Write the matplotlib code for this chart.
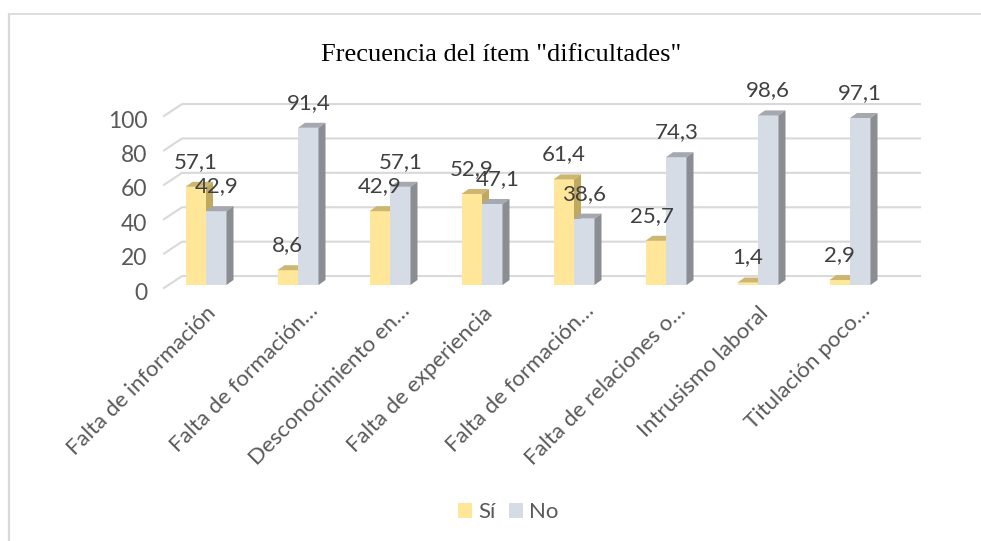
import numpy as np
import matplotlib
matplotlib.use("Agg")
import matplotlib.pyplot as plt
from matplotlib.lines import Line2D
from matplotlib.patches import Patch, Polygon
from matplotlib.transforms import ScaledTranslation

categories = [
    "Falta de información",
    "Falta de formación…",
    "Desconocimiento en…",
    "Falta de experiencia",
    "Falta de formación…",
    "Falta de relaciones o…",
    "Intrusismo laboral",
    "Titulación poco…",
]
si = [57.1, 8.6, 42.9, 52.9, 61.4, 25.7, 1.4, 2.9]
no = [42.9, 91.4, 57.1, 47.1, 38.6, 74.3, 98.6, 97.1]
y_ticks = [0, 20, 40, 60, 80, 100]

W, H = 981, 541
PX_X = 92.0   # px per category
PX_Y = 1.72   # px per value unit
BAR_W = 20.5 / PX_X
DX = 7 / PX_X
DY = 5 / PX_Y
TICK_SHIFT = 3 / PX_Y

plt.rcParams["font.family"] = ["Lato", "DejaVu Sans"]

fig = plt.figure(figsize=(W / 100, H / 100), dpi=100)
left, right, top, bottom = 164, 920, 100, 296
ax = fig.add_axes([left / W, 1 - bottom / H, (right - left) / W, (bottom - top) / H])
ax.patch.set_visible(False)
for s in ax.spines.values():
    s.set_visible(False)

# page border, only top and left are there
fig.add_artist(Line2D([9 / W, 9 / W], [0, 1 - 13.5 / H], color="#D9D9D9", lw=1.6))
fig.add_artist(Line2D([9 / W, 1], [1 - 13.5 / H, 1 - 13.5 / H], color="#DDDDDD", lw=1.4))

# back grid and the slanted floor part
x0 = (left - 206) / PX_X
x1 = (182 - 206) / PX_X
x2 = (right - 206) / PX_X
for v in y_ticks:
    ax.plot([x0, x1, x2], [v - TICK_SHIFT, v + 5.2, v + 5.2], color="#D9D9D9", lw=1.5,
            zorder=1, clip_on=False, solid_joinstyle="miter")


def bar3d(x, v, front, top_c, side_c):
    l, r = x - BAR_W / 2, x + BAR_W / 2
    ax.bar(x, v, width=BAR_W, color=front, zorder=3, linewidth=0)
    ax.add_patch(Polygon([(l, v), (r, v), (r + DX, v + DY), (l + DX, v + DY)],
                         facecolor=top_c, edgecolor="none", zorder=3))
    ax.add_patch(Polygon([(r, 0), (r + DX, DY), (r + DX, v + DY), (r, v)],
                         facecolor=side_c, edgecolor="none", zorder=3))


xs = np.arange(len(categories))
for x, a, b in zip(xs, si, no):
    bar3d(x - BAR_W / 2, a, "#FFE699", "#CDB670", "#BFA95F")
    bar3d(x + BAR_W / 2, b, "#D6DCE5", "#A5A9AF", "#8A8D91")

# data labels, two of them sit a bit off centre in the original
LABEL_UP = 25 / PX_Y
nudge_si = {5: -4}
nudge_no = {3: 5}
for i, (x, a, b) in enumerate(zip(xs, si, no)):
    ax.text(x - BAR_W / 2 + nudge_si.get(i, 0) / PX_X, a + LABEL_UP, f"{a:.1f}".replace(".", ","),
            ha="center", va="center", fontsize=16, color="#404040", zorder=5)
    ax.text(x + BAR_W / 2 + nudge_no.get(i, 0) / PX_X, b + LABEL_UP, f"{b:.1f}".replace(".", ","),
            ha="center", va="center", fontsize=16, color="#404040", zorder=5)

ax.set_yticks(np.array(y_ticks) - TICK_SHIFT - 3 / PX_Y, [str(v) for v in y_ticks], fontsize=16.5, color="#595959")
ax.set_xticks(xs, categories, fontsize=16, color="#595959", rotation=45, ha="right",
              rotation_mode="anchor")
ax.tick_params(axis="y", length=0, pad=12)
ax.tick_params(axis="x", length=0, pad=5)
# limits last, the ticks below the floor would widen them
ax.set_xlim((left - 206) / PX_X, (right - 206) / PX_X)
ax.set_ylim(-(bottom - 285) / PX_Y, (285 - top) / PX_Y)

# the cut-off labels end a bit further right and higher
cut_shift = ScaledTranslation(10 / 100, 2 / 100, fig.dpi_scale_trans)
for lab, name in zip(ax.get_xticklabels(), categories):
    if name.endswith("…"):
        lab.set_transform(lab.get_transform() + cut_shift)

fig.text(501 / W, 1 - 55 / H, 'Frecuencia del ítem "dificultades"', family="Liberation Serif",
         fontsize=19, color="black", ha="center", va="center")

handles = [Patch(facecolor="#FFE699", label="Sí"), Patch(facecolor="#D6DCE5", label="No")]
fig.legend(handles=handles, loc="center", bbox_to_anchor=(508 / W, 1 - 512 / H), ncol=2, frameon=False,
           fontsize=16, labelcolor="#595959", handlelength=0.65, handleheight=0.65,
           handletextpad=0.25, columnspacing=0.6)

fig.savefig("out.png", dpi=100)
